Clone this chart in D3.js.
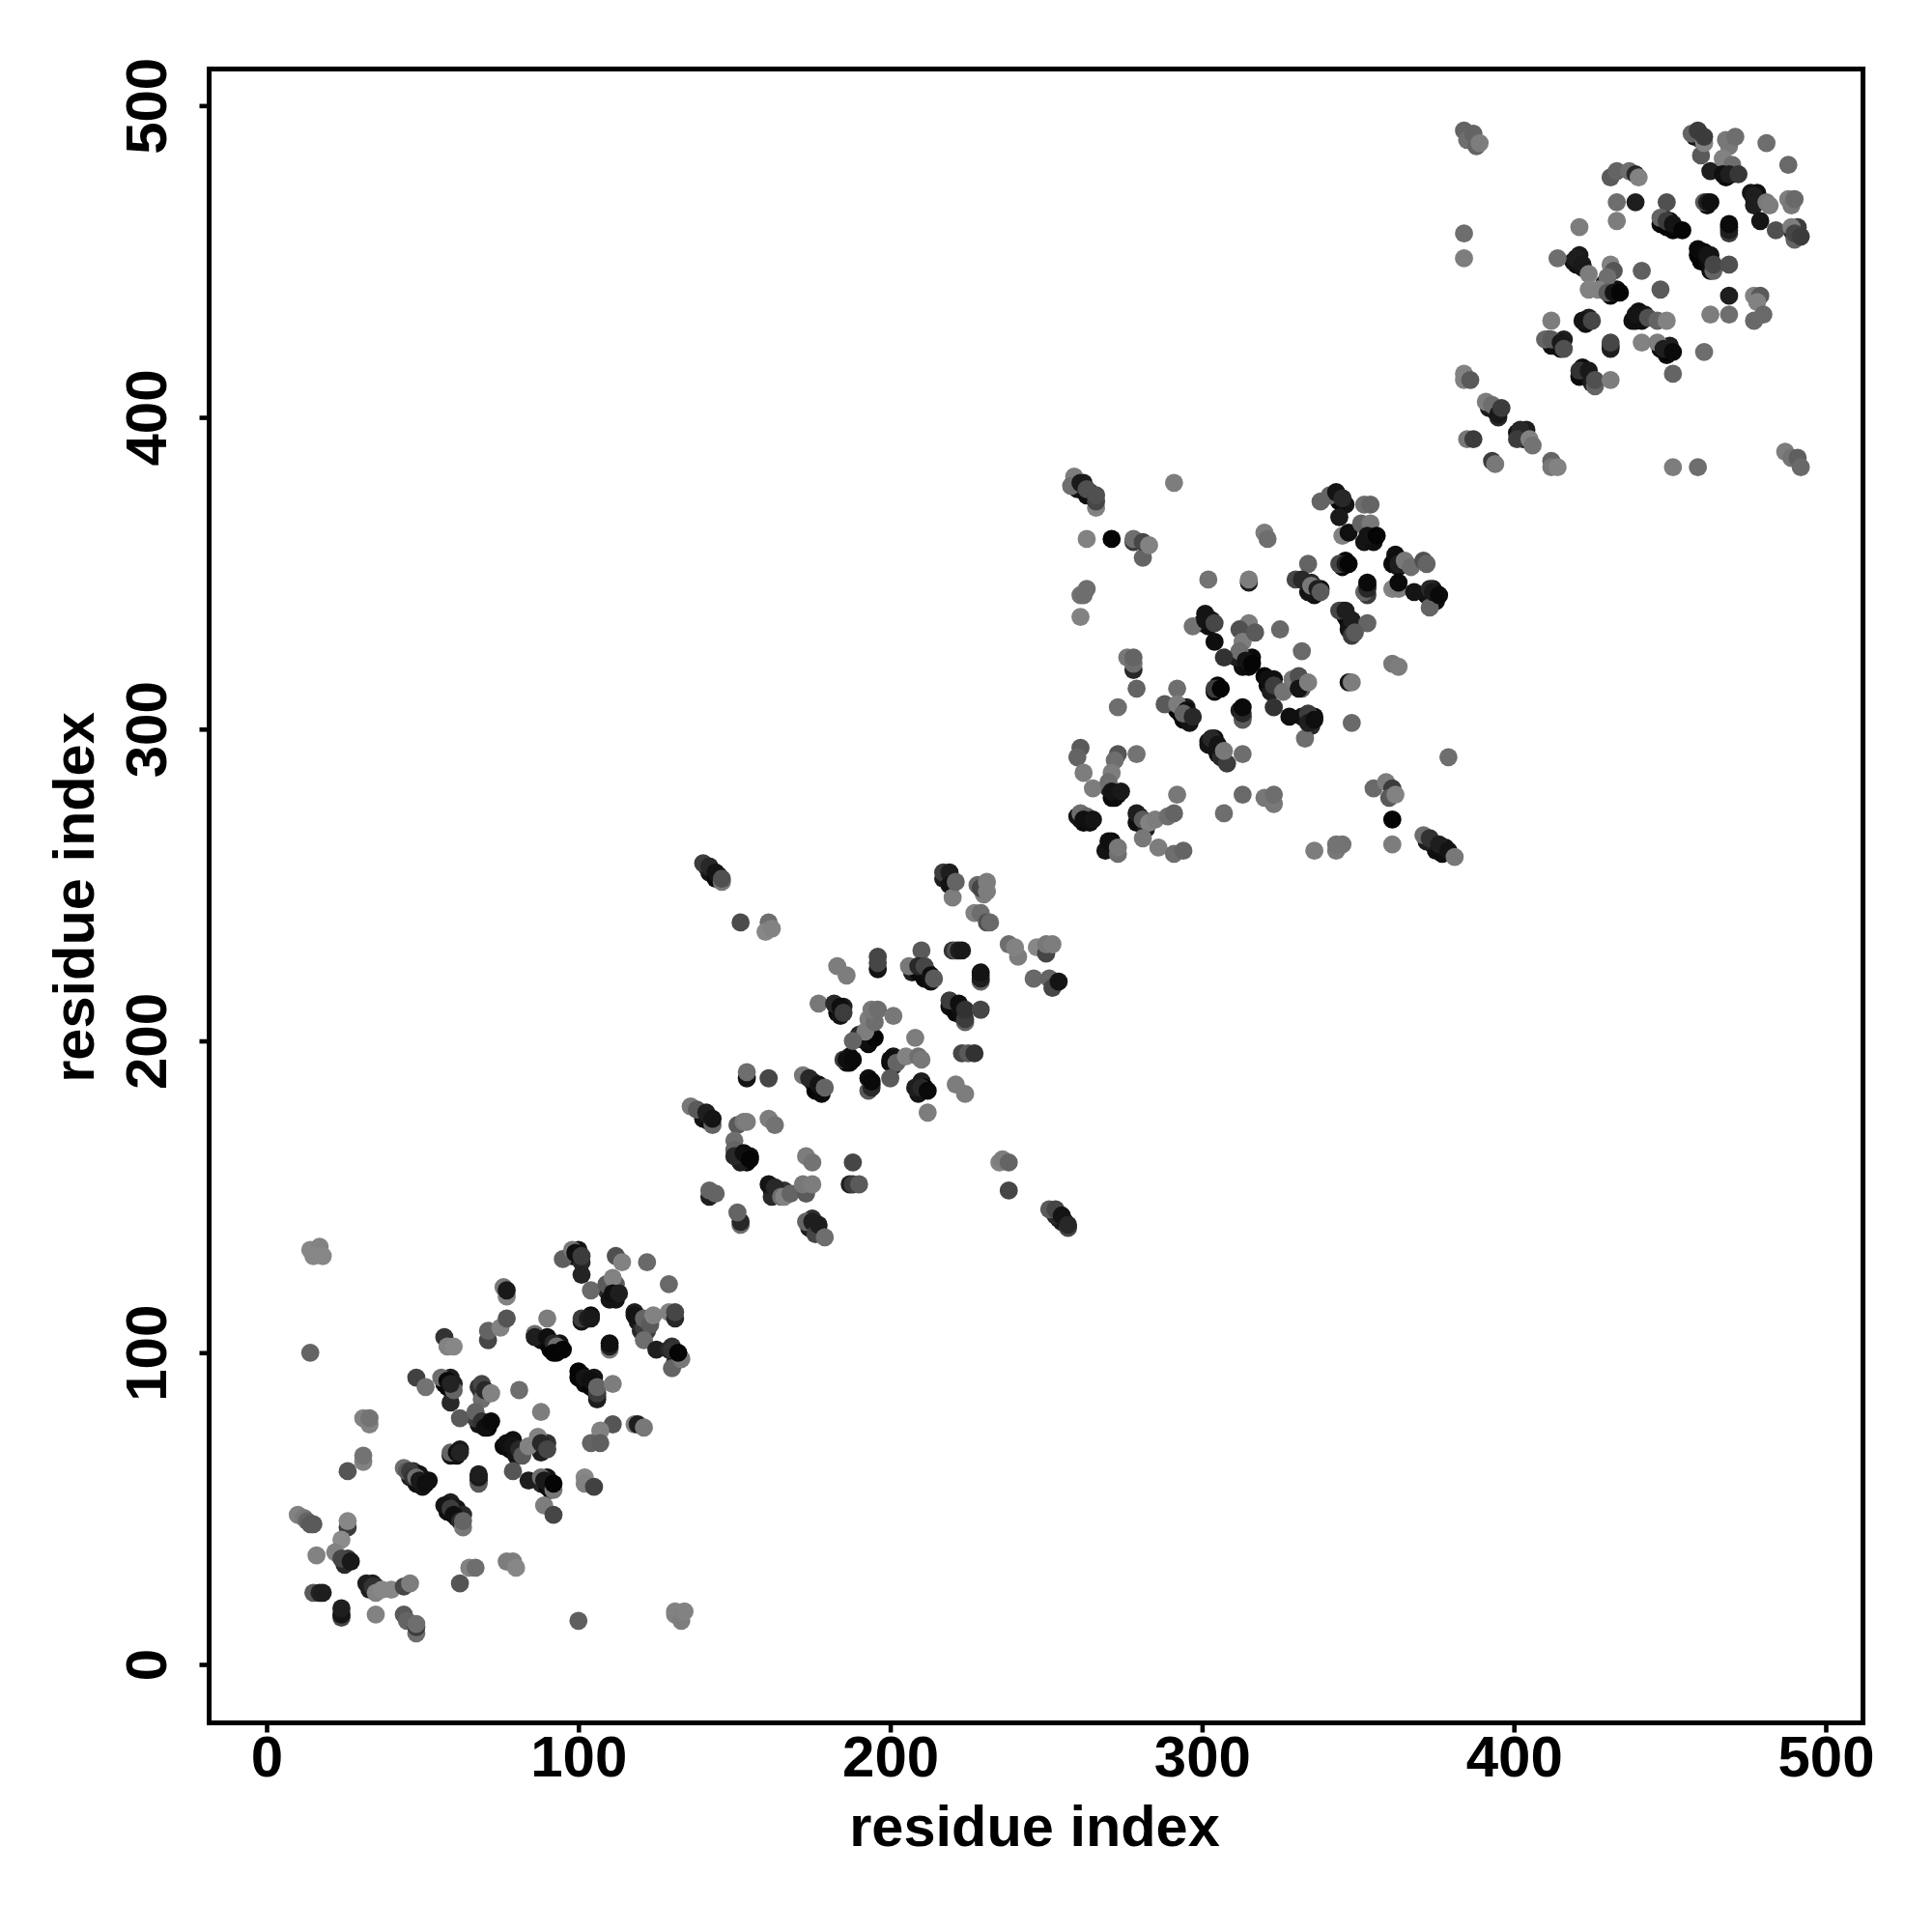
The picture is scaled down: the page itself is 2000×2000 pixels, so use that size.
<!DOCTYPE html>
<html><head><meta charset="utf-8">
<script src="https://cdnjs.cloudflare.com/ajax/libs/d3/7.8.5/d3.min.js"></script>
<style>html,body{margin:0;padding:0;background:#fff}svg{display:block}</style>
</head><body><svg id="c" width="2000" height="2000"></svg>
<script>
const xTicks=[0,100,200,300,400,500];
const yTicks=[0,100,200,300,400,500];
const xTitle="residue index", yTitle="residue index";
// each contact: [residue i, residue j, grey level]; the "Under" lists are drawn first
const block1Under=[
[46,60,30],[47,62,40],[49,61,20],[48,58,15],[50,57,20],[52,59,15],
[58,49,15],[59,52,30],[61,50,20],[61,47,15],[63,48,40],
[59,67,20],[61,67,15],[62,69,25],[68,59,20],
[78,69,15],[76,70,10],[79,72,15],[80,67,20],[82,69,40],
[88,58,40],[90,60,20],[90,57,10],[91,56,15],[88,68,30],[90,71,50],
[57,90,10],[58,89,10],[59,92,30],[60,90,30],
[68,77,20],[70,77,10],[71,76,5],[67,79,60],[69,87,30],[68,89,50],
[88,104,15],[90,103,10],[91,101,5],[93,100,5],[94,103,20],
[101,93,10],[100,92,5],[102,90,10],[104,89,5],[105,92,20],[106,85,30],
[101,110,20],[104,112,15],[119,110,25],[118,113,30],[120,107,40],[122,107,60],
[132,98,30],[131,97,40],[130,102,50],[131,100,20],
[109,120,40],[110,117,20],[112,117,20],[112,122,90],
[98,131,20],[100,133,20],[101,129,40],
[33,24,30],[34,26,30],[35,25,40],[25,32,40],[26,34,60]
];
const block1=[
[14,133,135],[17,134,130],[15,131,135],[18,131,135],[14,100,100],
[10,48,130],[12,47,120],[13,46,100],[14,45,90],[15,45,90],[16,35,130],
[26,44,60],[26,46,135],[24,40,140],[22,36,130],[24,34,70],[27,33,25],
[15,23,90],[17,23,35],[18,23,30],[24,15,70],[24,16,20],[24,18,30],[35,16,130],
[32,26,30],[34,25,50],[35,23,130],[37,24,135],[40,24,135],[44,25,70],[46,26,125],
[44,16,90],[45,14,100],[48,10,110],[48,12,60],[48,13,110],
[62,26,85],[65,31,130],[67,31,110],[77,33,125],[79,33,125],[80,31,135],
[100,14,95],[131,16,130],[131,17,130],[133,14,125],[134,17,130],
[44,63,110],[45,62,90],[46,62,60],[47,60,50],[48,60,110],[49,59,25],[51,58,15],
[26,62,85],[31,65,130],[31,67,115],[31,79,130],[33,77,130],[33,79,115],
[57,51,20],[59,50,60],[60,48,15],[62,46,40],[63,44,120],[63,46,100],
[59,68,100],[61,68,15],[62,68,35],[68,58,90],[68,60,25],[68,61,30],
[77,71,15],[79,70,20],[81,69,40],[82,67,90],[79,62,85],[84,59,30],
[88,60,110],[89,59,25],[92,56,120],[92,58,5],[89,51,125],[92,48,70],
[84,70,130],[87,73,130],[88,71,40],[90,69,70],[81,88,110],[88,81,125],
[62,79,90],[59,84,40],[48,92,65],[51,89,115],
[56,92,110],[58,91,10],[60,88,100],[59,90,35],
[69,85,110],[69,90,70],[70,88,40],[72,87,130],
[67,81,100],[69,78,50],[70,76,15],[72,78,10],
[57,105,50],[58,102,130],[60,102,135],[71,104,70],[71,107,100],[75,108,130],[77,111,85],
[76,121,120],[77,118,130],[77,120,25],
[86,106,110],[86,105,30],[90,105,15],[92,103,40],[93,102,110],[92,100,5],[95,101,5],[90,111,125],
[101,111,60],[103,111,30],[104,111,25],[110,101,120],[110,102,30],[110,103,15],
[100,94,5],[102,92,20],[104,91,15],[106,86,30],[106,87,60],[106,89,100],[111,90,125],
[111,77,85],[107,75,130],[104,71,100],[107,71,95],[118,77,130],[119,77,30],[121,76,120],
[102,60,135],[102,58,130],[105,57,65],
[95,130,95],[98,133,120],[99,132,15],[101,131,60],[101,125,35],[104,120,105],
[112,131,80],[109,122,90],[111,124,130],[111,119,15],[113,119,30],[114,129,130],
[122,129,105],[129,122,105],
[118,112,20],[121,108,60],[121,111,100],[123,109,90],[124,112,130],
[129,113,130],[131,111,40],[131,113,70],[121,104,110],[125,101,30],
[130,95,100],[133,98,120],[129,101,40],[130,101,50],[132,100,5]
];
const block2Under=[
[142,254,20],[141,256,30],[144,252,10],[145,253,30],
[218,252,20],[219,253,15],[217,252,30],
[207,222,30],[209,222,10],[211,220,10],[212,222,15],[213,219,15],[229,221,40],
[183,211,15],[183,209,10],[185,211,30],[184,208,20],
[192,201,20],[193,199,10],[194,202,15],[190,202,40],
[186,193,10],[187,195,15],[187,193,10],[200,193,10],[201,195,20],[201,192,20],
[194,186,10],[193,188,15],[219,211,15],[221,209,10],[222,211,20],[223,208,15],
[209,183,20],[210,187,30],[211,185,5],[175,187,30],[176,184,5],[178,183,10],
[140,175,20],[142,174,10],[141,176,20],
[152,163,20],[153,162,5],[154,161,10],[152,161,30],[155,163,15],
[162,152,20],[164,152,15],[162,150,40],[166,152,50],
[174,140,30],[176,140,30],[175,143,50],[177,139,30],
[255,142,30],[254,143,30],[256,142,20],[253,144,40],[142,150,30]
];
const block2=[
[140,257,60],[142,256,40],[144,254,20],[146,251,120],[146,252,80],
[152,238,75],[161,238,110],[160,235,135],[162,236,130],
[217,254,60],[219,254,30],[219,250,20],[220,246,125],[221,251,100],
[228,250,105],[230,247,125],[229,249,70],[231,248,125],[231,251,125],
[227,241,130],[229,241,110],[231,238,80],[232,238,105],
[238,231,110],[241,227,125],[240,230,130],
[247,230,135],[250,228,70],[250,231,120],[252,231,125],
[246,220,105],[251,220,100],[252,217,70],[254,219,20],
[210,229,90],[206,224,120],[209,224,40],[211,224,70],[213,221,15],[214,220,90],
[220,229,50],[221,229,80],[222,229,30],[223,229,25],
[229,219,100],[229,220,30],[229,222,20],
[196,223,20],[196,225,70],[196,227,70],[183,224,125],[186,221,125],[177,212,120],
[182,212,40],[184,211,15],[185,209,60],
[192,200,15],[195,201,5],[192,203,125],[193,207,125],[195,206,110],[194,210,120],[196,210,110],
[201,208,120],[188,200,100],[208,201,125],
[185,194,60],[186,194,15],[188,194,10],[200,194,15],[202,193,100],[205,195,130],[209,195,110],[210,194,120],[200,188,90],
[193,184,90],[194,185,40],[194,187,10],
[219,213,60],[222,212,15],[224,206,100],[224,207,60],[224,210,50],[229,210,70],
[223,196,70],[225,196,90],[227,196,50],[221,186,125],[224,183,125],[212,177,125],
[208,185,30],[210,185,40],[212,184,10],
[172,189,120],[174,188,40],[177,186,20],[179,185,100],
[154,188,20],[154,190,110],[161,188,70],
[136,179,120],[138,178,90],[141,177,30],[143,173,100],[143,175,20],
[151,173,90],[153,174,120],[154,174,125],[161,175,125],[163,173,115],
[150,168,110],[150,165,100],[150,163,40],[153,164,15],[155,162,5],
[173,163,125],[175,161,115],[188,161,70],[187,154,30],[188,154,60],[190,154,90],
[238,152,70],[235,161,130],[236,162,125],[238,161,100],
[143,151,30],[142,152,100],[144,151,100],
[152,141,110],[152,142,40],[151,145,100],
[161,154,20],[163,153,40],[165,150,110],[166,150,130],[168,151,100],[173,151,90],[172,154,120],[175,154,125],
[173,142,100],[175,142,30],[176,138,70],[177,141,30],[179,137,110],
[251,146,90],[253,146,70],[255,144,20],[257,140,70],[257,141,40]
];
const block3Under=[
[261,377,20],[262,379,30],[260,377,20],[264,376,30],[263,375,15],
[301,337,20],[300,334,10],[302,333,15],
[313,320,15],[315,320,10],[311,323,30],[316,323,10],
[304,312,10],[305,314,5],[313,304,20],[312,306,30],
[321,314,10],[320,317,5],[323,316,15],[322,312,30],
[334,304,10],[336,304,15],[332,304,20],[335,301,40],
[293,305,15],[292,306,5],[294,303,10],[295,307,30],[296,302,20],
[302,296,20],[304,294,10],[305,292,15],[304,297,15],[306,291,40],
[271,278,10],[273,279,20],[270,281,40],[272,278,10],
[262,270,10],[264,270,15],[261,271,10],[279,270,15],[280,272,20],[282,268,30],
[270,262,10],[271,264,10],[269,261,20],
[374,263,20],[375,261,15],[377,260,15],[378,262,20],[372,264,30],
[338,345,10],[336,343,15],[334,344,20],[335,347,40],
[345,374,15],[346,372,20],[344,373,10],[354,362,10],[352,360,20],[355,360,15],
[346,354,5],[345,352,10],[353,346,15],[353,343,60],
[361,353,10],[362,355,5],[363,352,20],
[372,343,10],[374,345,20],[375,341,15],[373,342,20],
[346,336,10],[345,338,15],[347,334,10],[347,332,20],[259,380,60]
];
const block3=[
[259,381,125],[258,378,110],[261,379,25],[263,377,80],[266,371,130],[266,373,70],[266,375,80],
[291,379,125],[263,361,130],[271,361,5],
[278,360,60],[278,361,110],[281,355,100],[281,360,70],[283,359,130],
[320,363,125],[321,361,110],[302,348,115],[315,347,30],[315,348,125],
[263,345,110],[261,343,115],[262,343,110],[261,336,130],[297,333,115],
[301,335,20],[303,335,20],[304,334,70],[304,328,15],
[315,334,125],[312,332,80],[313,328,125],[312,325,110],[314,322,20],[316,321,5],[317,331,90],[307,323,50],
[325,332,105],[332,325,105],[334,353,100],
[330,348,70],[332,348,40],[335,346,120],[337,345,30],[338,344,90],
[338,373,100],[341,375,100],[343,376,20],[345,374,40],[344,368,25],
[352,372,110],[354,372,100],[345,362,130],[347,363,15],
[351,366,100],[354,366,120],[353,362,20],[356,362,5],
[344,353,70],[346,353,30],[347,353,5],[352,344,100],[353,345,40],[353,347,10],
[362,356,15],[363,353,30],[365,354,120],[367,352,110],[371,354,80],[372,353,100],
[361,345,130],[363,345,125],[363,347,10],[368,344,20],
[373,339,100],[373,345,40],[374,344,25],[376,343,10],
[344,338,70],[346,338,30],[348,335,30],[353,334,100],[348,330,60],[349,331,90],
[361,321,120],[363,320,125],[347,315,20],[348,315,125],[348,302,105],[379,291,110],
[321,316,15],[323,314,60],[326,312,115],[329,316,120],[331,317,80],[332,313,90],[331,313,20],[334,315,125],
[304,313,60],[305,313,60],[306,313,5],[313,303,90],[313,305,40],[313,307,10],
[323,307,50],[328,304,15],[333,297,110],[334,305,60],[334,302,30],[336,303,15],
[292,313,110],[288,308,90],[292,308,125],[295,306,15],[294,305,100],[297,304,40],
[279,313,100],[273,307,110],[276,323,120],[278,319,40],[278,321,110],[278,323,100],
[302,295,20],[303,297,40],[305,295,20],[308,289,60],[307,293,120],[313,292,110],
[261,294,90],[260,291,100],[262,286,125],[265,281,125],[279,292,115],
[273,292,85],[272,290,110],[271,286,125],[270,283,110],[271,280,20],[274,280,25],
[260,272,20],[261,273,110],[263,272,100],[262,271,15],[265,271,20],
[279,273,30],[281,271,90],[283,270,130],[285,271,125],[289,272,110],[291,273,100],
[281,265,120],[286,262,125],[291,260,110],[294,261,100],[292,279,120],
[270,264,15],[273,260,110],[273,262,120],[313,279,105],[307,273,110],
[320,278,120],[323,276,120],[323,279,110],
[355,281,105],[359,283,125],[361,281,60],[360,278,90],[362,279,130],[361,271,5],[361,263,125],
[336,261,125],[343,261,120],[343,263,115],[345,263,115],
[371,266,110],[373,265,50],[376,263,30],[379,261,20],[381,259,120]
];
const block4Under=[
[393,403,30],[394,402,20],[392,403,30],[395,400,40],
[401,395,20],[403,393,30],[402,394,20],[404,396,30],
[459,491,30],[458,490,20],[460,489,30],
[470,480,20],[468,477,10],[470,478,10],[468,480,30],
[477,470,10],[478,472,15],[476,472,20],[478,469,15],[477,468,30],
[490,458,20],[489,460,40],[491,461,60],
[447,462,10],[449,461,5],[450,463,15],[451,460,5],[448,464,40],
[459,452,5],[461,453,10],[460,450,5],[462,450,10],[463,452,20],[463,447,15],
[420,449,15],[421,452,25],[422,448,20],[419,450,20],
[430,441,10],[431,439,5],[433,441,15],[429,443,30],
[439,431,10],[440,434,15],[441,431,15],[442,433,20],[438,431,15],
[447,422,10],[449,420,10],[450,423,30],[449,421,5],
[411,425,30],[413,423,10],[415,422,10],[416,425,30],[412,423,15],
[421,413,10],[423,414,15],[422,416,15],[424,413,15],[425,411,30],
[423,430,15],[424,432,30],[431,423,30],[462,468,15],[469,461,10]
];
const block4=[
[384,492,100],[385,489,110],[387,491,100],[388,487,100],[389,488,125],
[384,459,110],[384,451,125],[384,414,130],[384,412,130],[386,412,90],
[391,405,125],[393,404,110],[395,401,25],[396,403,60],[385,393,120],[387,393,60],[393,386,60],[394,385,120],
[402,396,40],[401,393,60],[405,393,130],[406,391,115],[412,386,100],[412,384,120],[414,384,130],
[451,384,125],[459,384,110],[487,389,125],[489,387,115],[491,387,95],[492,384,105],
[481,488,110],[488,481,105],
[457,491,100],[459,492,60],[460,484,90],[461,488,130],[461,490,60],
[468,489,120],[469,487,120],[471,490,110],[463,479,30],
[467,483,130],[470,481,110],[467,478,15],[469,478,30],[472,478,55],
[477,471,30],[479,463,20],[481,469,120],[482,468,125],
[488,470,125],[489,468,120],[490,470,105],[484,460,80],
[489,461,125],[490,457,100],[490,459,70],[492,458,60],
[461,469,90],[462,469,30],[463,469,15],[469,459,60],[469,460,30],[469,462,10],
[449,469,80],[433,469,110],[439,469,30],[433,463,125],
[431,477,90],[433,479,100],[437,479,110],[439,478,40],[440,477,130],
[421,461,125],[414,451,110],[420,451,40],[420,451,30],[422,449,25],[424,446,125],
[431,449,130],[432,447,85],[430,445,110],[424,441,130],[427,441,130],[430,440,90],[432,440,20],[434,440,5],
[441,447,95],[447,441,90],
[447,464,100],[449,463,60],[451,462,20],[454,460,5],
[459,454,10],[462,452,20],[464,447,100],[464,449,70],[469,449,80],[469,439,30],
[477,439,130],[479,439,90],[478,437,130],[477,431,105],[480,433,105],[463,433,125],[469,433,110],
[412,431,125],[422,431,20],[425,431,70],[431,422,30],[431,424,70],
[439,433,20],[443,432,80],[446,431,100],[449,431,130],
[441,424,130],[446,424,125],[448,422,30],[451,421,10],[461,421,110],[451,414,100],
[410,425,100],[412,425,90],[415,424,25],[416,422,80],
[421,415,50],[424,415,25],[426,410,100],[426,412,80],[431,412,125]
];

const blocks=[block1Under,block1,block2Under,block2,block3Under,block3,block4Under,block4];
const x=d3.scaleLinear().domain([-18.43,511.96]).range([216.5,1928.6]);
const y=d3.scaleLinear().domain([-18.74,511.75]).range([1783.5,71.4]);
const svg=d3.select("#c");
const font="'Liberation Sans',Arial,Helvetica,sans-serif";
const pts=svg.append("g");
blocks.forEach(b=>{
  pts.selectAll(null).data(b).enter().append("circle")
    .attr("cx",d=>x(d[0])).attr("cy",d=>y(d[1])).attr("r",9.4)
    .attr("fill",d=>d3.rgb(d[2],d[2],d[2]));
});
svg.append("rect").attr("x",x.range()[0]).attr("y",y.range()[1])
  .attr("width",x.range()[1]-x.range()[0]).attr("height",y.range()[0]-y.range()[1])
  .attr("fill","none").attr("stroke","#000").attr("stroke-width",5);
const gx=svg.append("g").attr("transform",`translate(0,${y.range()[0]})`)
  .call(d3.axisBottom(x).tickValues(xTicks).tickSize(10).tickPadding(14));
const gy=svg.append("g").attr("transform",`translate(${x.range()[0]},0)`)
  .call(d3.axisLeft(y).tickValues(yTicks).tickSize(10).tickPadding(0));
[gx,gy].forEach(g=>{
  g.select(".domain").remove();
  g.selectAll(".tick line").attr("stroke","#000").attr("stroke-width",4.6);
  g.selectAll("text").attr("fill","#000").style("font-family",font).style("font-size","60px").style("font-weight","700");
});
gx.selectAll("text").attr("dy",null).attr("y",55);
gy.selectAll("text").attr("x",null).attr("dy",null).attr("text-anchor","middle")
  .attr("transform","translate(-45,0) rotate(-90)");
svg.append("text").attr("x",1071).attr("y",1911).attr("text-anchor","middle")
  .style("font-family",font).style("font-size","59.5px").style("font-weight","700").text(xTitle);
svg.append("text").attr("transform","translate(97,929) rotate(-90)").attr("text-anchor","middle")
  .style("font-family",font).style("font-size","59.5px").style("font-weight","700").text(yTitle);
</script></body></html>
